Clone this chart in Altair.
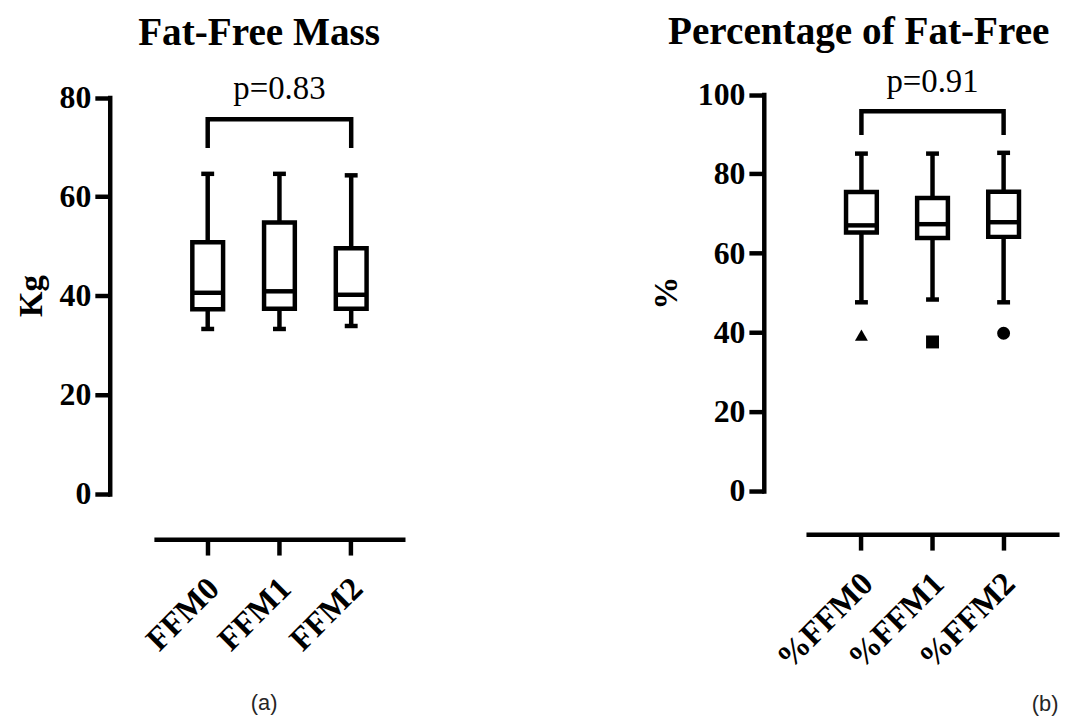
import altair as alt
import pandas as pd

SERIF = "Liberation Serif"
SANS = "Liberation Sans"

# ---- Panel (a): Fat-Free Mass (Kg) ----
ffm_cats = ["FFM0", "FFM1", "FFM2"]
ffm_min = [33.3, 33.3, 33.9]
ffm_q1 = [37.3, 37.4, 37.4]
ffm_med = [40.6, 40.9, 40.2]
ffm_q3 = [50.8, 54.8, 49.6]
ffm_max = [64.6, 64.6, 64.3]
ffm_bracket = [69.8, 75.6, 75.6, 69.8]
ffm_p_text = "p=0.83"
ffm_p_y = 79.6
ffm_ticks = [0, 20, 40, 60, 80]

# ---- Panel (b): Percentage of Fat-Free Mass (%) ----
pct_cats = ["%FFM0", "%FFM1", "%FFM2"]
pct_min = [47.6, 48.3, 47.6]
pct_q1 = [65.2, 63.8, 64.1]
pct_med = [67.0, 67.3, 67.8]
pct_q3 = [75.4, 73.9, 75.5]
pct_max = [85.1, 85.1, 85.3]
pct_outlier = [39.3, 37.6, 39.8]
pct_shapes = ["triangle-up", "square", "circle"]
pct_bracket = [89.8, 95.8, 95.8, 89.8]
pct_p_text = "p=0.91"
pct_p_y = 100.7
pct_ticks = [0, 20, 40, 60, 80, 100]

LW = 4.5


def make_panel(cats, mins, q1s, meds, q3s, maxs, brk, ptxt, p_y, ydom, yvals,
               yrng, xrng, xpo, yoff, xoff, ytitle, ttl_x, ttl_y,
               outl=None, shapes=None):
    df = pd.DataFrame({"cat": cats, "lo": mins, "q1": q1s, "med": meds,
                       "q3": q3s, "hi": maxs})
    xs = alt.Scale(type="band", domain=cats, range=xrng, paddingInner=0,
                   paddingOuter=xpo)
    ys = alt.Scale(domain=ydom, range=yrng, nice=False, zero=False)
    xa = alt.Axis(orient="bottom", offset=xoff, title=None, grid=False,
                  tickSize=16, tickWidth=LW, tickColor="black",
                  domainColor="black", domainWidth=LW, domainCap="butt",
                  labelAngle=315, labelAlign="right", labelBaseline="top",
                  labelFont=SERIF, labelFontWeight="bold", labelFontSize=33,
                  labelColor="black", labelPadding=17, labelOffset=-5,
                  labelOverlap=False)
    ya = alt.Axis(orient="left", offset=yoff, values=yvals, grid=False,
                  tickSize=15, tickWidth=LW, tickColor="black",
                  domainColor="black", domainWidth=LW, domainCap="square",
                  labelFont=SERIF, labelFontWeight="bold", labelFontSize=32,
                  labelColor="black", labelPadding=4, labelOverlap=False,
                  title=ytitle, titleFont=SERIF, titleFontWeight="bold",
                  titleFontSize=33, titleColor="black", titleAngle=270,
                  titleAlign="center", titleBaseline="alphabetic",
                  titleX=ttl_x, titleY=ttl_y)
    X = alt.X("cat:N", scale=xs, axis=xa)

    def Y(f):
        return alt.Y(f, scale=ys, axis=ya)

    base = alt.Chart(df)
    whisk = base.mark_rule(color="black", strokeWidth=LW).encode(
        x=X, y=Y("lo:Q"), y2="hi:Q")
    box = base.mark_bar(size=31, fill="white", stroke="black",
                        strokeWidth=LW).encode(x=X, y=Y("q1:Q"), y2="q3:Q")
    med = base.mark_tick(size=31, thickness=LW, color="black",
                         opacity=1).encode(x=X, y=Y("med:Q"))
    cap_lo = base.mark_tick(size=13, thickness=LW, color="black",
                            opacity=1).encode(x=X, y=Y("lo:Q"))
    cap_hi = base.mark_tick(size=13, thickness=LW, color="black",
                            opacity=1).encode(x=X, y=Y("hi:Q"))

    bdf = pd.DataFrame({"cat": [cats[0], cats[0], cats[2], cats[2]],
                        "by": brk, "o": [0, 1, 2, 3]})
    bracket = alt.Chart(bdf).mark_line(color="black", strokeWidth=LW,
                                       strokeJoin="miter",
                                       strokeCap="butt").encode(
        x=X, y=Y("by:Q"), order="o:O")

    pdf = pd.DataFrame({"cat": [cats[1]], "py": [p_y], "t": [ptxt]})
    ptext = alt.Chart(pdf).mark_text(font=SERIF, fontSize=33, color="black",
                                     align="center",
                                     baseline="alphabetic").encode(
        x=X, y=Y("py:Q"), text="t:N")

    layers = [whisk, box, med, cap_lo, cap_hi, bracket, ptext]
    if outl is not None:
        odf = pd.DataFrame({"cat": cats, "out": outl})
        pts = alt.Chart(odf).mark_point(filled=True, size=170, color="black",
                                        opacity=1).encode(
            x=X, y=Y("out:Q"),
            shape=alt.Shape("cat:N", scale=alt.Scale(domain=cats, range=shapes),
                            legend=None))
        layers.append(pts)
    return alt.layer(*layers)


left = make_panel(ffm_cats, ffm_min, ffm_q1, ffm_med, ffm_q3, ffm_max,
                  ffm_bracket, ffm_p_text, ffm_p_y, [0, 80], ffm_ticks,
                  [487, 87.5], [147, 400], 0.25, -102.5, -178.5,
                  "Kg", -69, 287)

right = make_panel(pct_cats, pct_min, pct_q1, pct_med, pct_q3, pct_max,
                   pct_bracket, pct_p_text, pct_p_y, [0, 100], pct_ticks,
                   [484, 84.5], [804, 1059], 0.28, -761.5, -183.5,
                   "%", -88, 284, outl=pct_outlier, shapes=pct_shapes)


def label(text, x, y, size, font, weight="normal", align="center",
          baseline="alphabetic", color="black", **kw):
    return alt.Chart(pd.DataFrame({"t": [text]})).mark_text(
        font=font, fontSize=size, fontWeight=weight, align=align,
        baseline=baseline, color=color, **kw).encode(
        x=alt.value(x), y=alt.value(y), text="t:N")


title_l = label("Fat-Free Mass", 253, 35, 39.5, SERIF, "bold")
title_r = label("Percentage of Fat-Free Mass", 665, 34, 39.5, SERIF, "bold",
                align="left", limit=402, ellipsis=" ")
tag_a = label("(a)", 258, 698, 22, SANS, baseline="middle", color="#262626")
tag_b = label("(b)", 1045, 699, 22, SANS, baseline="middle", color="#262626")

chart = alt.layer(left, right, title_l, title_r, tag_a, tag_b).resolve_scale(
    x="independent", y="independent"
).properties(
    width=1067, height=711, padding=0,
    autosize=alt.AutoSizeParams(type="none"),
    background="white",
).configure_view(stroke=None)

chart.save("out.html", embed_options={"renderer": "svg", "actions": False})
